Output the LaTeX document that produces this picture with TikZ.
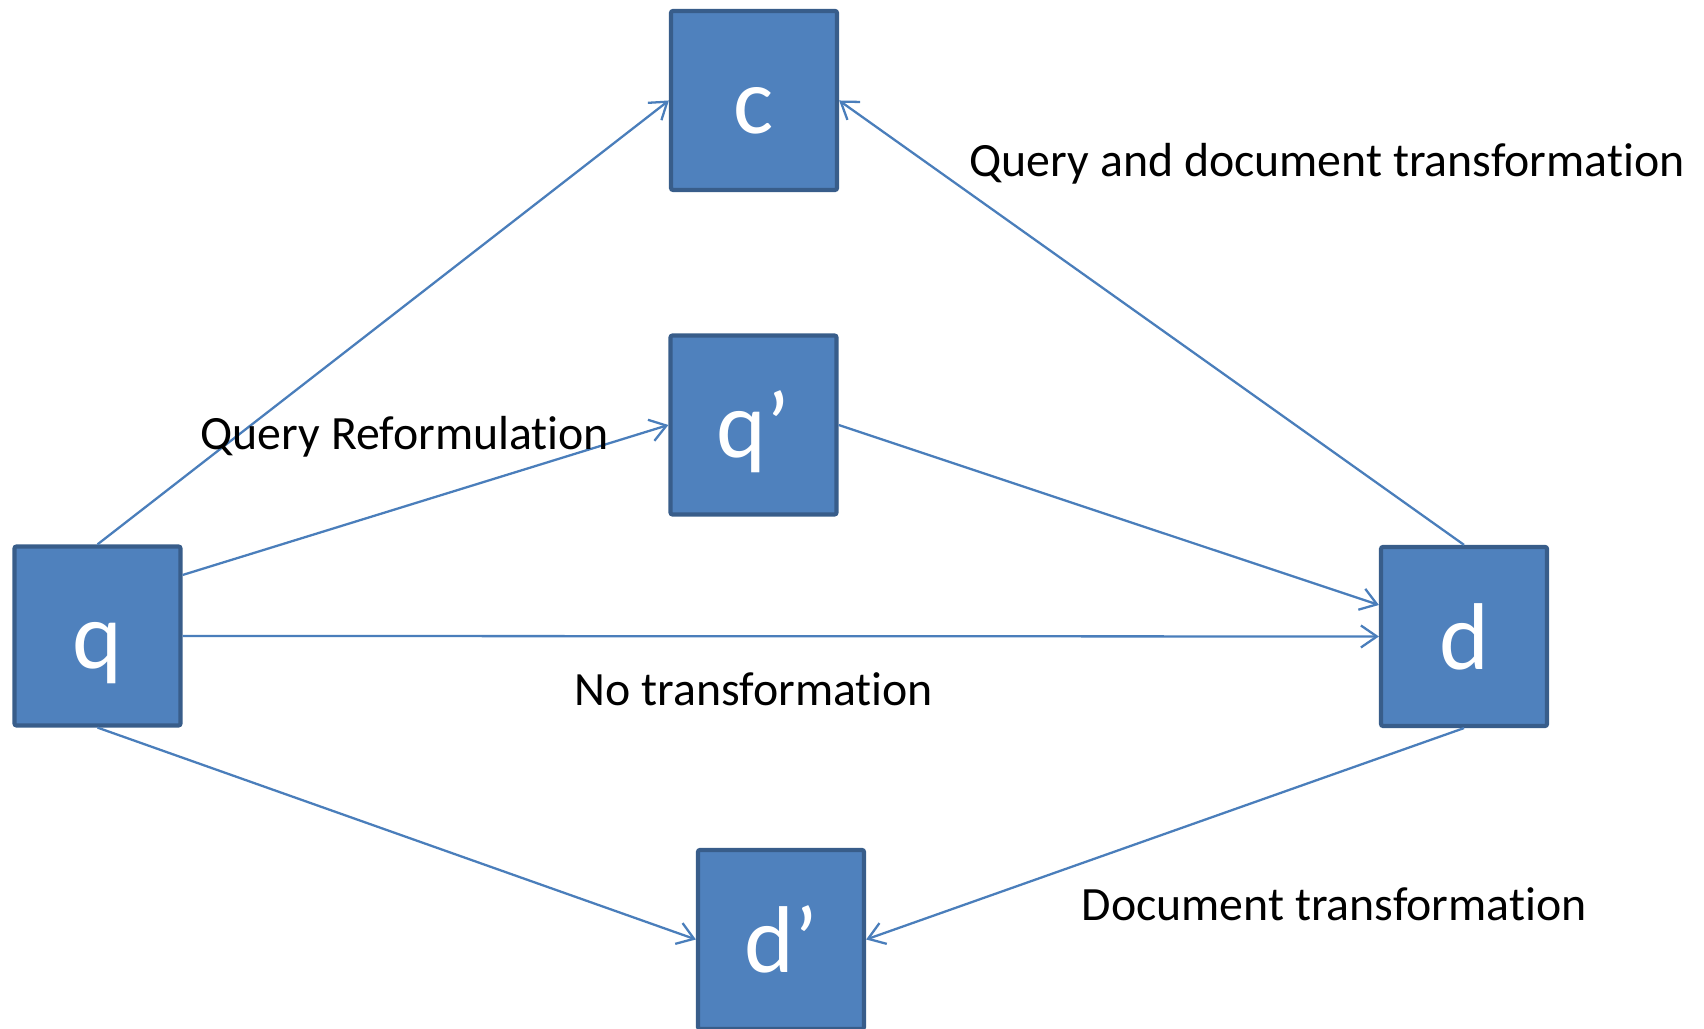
\documentclass[tikz,border=0pt]{standalone}
\usepackage{fontspec}
\setmainfont{Carlito}[Ligatures=NoCommon]
\usepackage{tikz}
\usetikzlibrary{arrows.meta}
\definecolor{box-fill}{HTML}{4F81BD}
\definecolor{box-line}{HTML}{385D8A}
\definecolor{link-line}{HTML}{4A7EBB}
\tikzset{
    blue-box/.style = {draw=box-line, fill=box-fill, line width=1.2pt, rectangle, rounded corners=0.6pt, minimum width=1.66cm, minimum height=1.79cm, inner sep=0pt, text=white, font=\fontsize{27}{32}\selectfont, text height=0.8cm, text depth=0.14cm},
    link-arrow/.style = {draw=link-line, line width=0.65pt, -{Straight Barb[length=1.6mm, width=2.2mm, line width=0.65pt]}},
    link-label/.style = {inner sep=0pt, anchor=base west, font=\fontsize{13.6}{16}\selectfont},
}
\begin{document}
\begin{tikzpicture}
\useasboundingbox (0,0) rectangle (17.04,10.29);
\node [blue-box] (q) at (0.975,3.93) {q};
\node [blue-box] (c) at (7.54,9.285) {c};
\node [blue-box] (qp) at (7.535,6.04) {q’};
\node [blue-box] (d) at (14.64,3.925) {d};
\node [blue-box] (dp) at (7.81,0.895) {d’};
\draw [link-arrow] (q.north) -- (c.west);
\draw [link-arrow] (d.north) -- (c.east);
\draw [link-arrow] ([yshift=0.61cm]q.east) -- (qp.west);
\draw [link-arrow] (qp.east) -- ([yshift=0.315cm]d.west);
\draw [link-arrow] (q.east) -- (d.west);
\draw [link-arrow] (q.south) -- (dp.west);
\draw [link-arrow] (d.south) -- (dp.east);
\node [link-label] (qdt) at (9.69,8.52) {Query and document transformation};
\node [link-label] (qr) at (2.0,5.79) {Query Reformulation};
\node [link-label] (nt) at (5.74,3.23) {No transformation};
\node [link-label] (dt) at (10.81,1.08) {Document transformation};
\end{tikzpicture}
\end{document}
